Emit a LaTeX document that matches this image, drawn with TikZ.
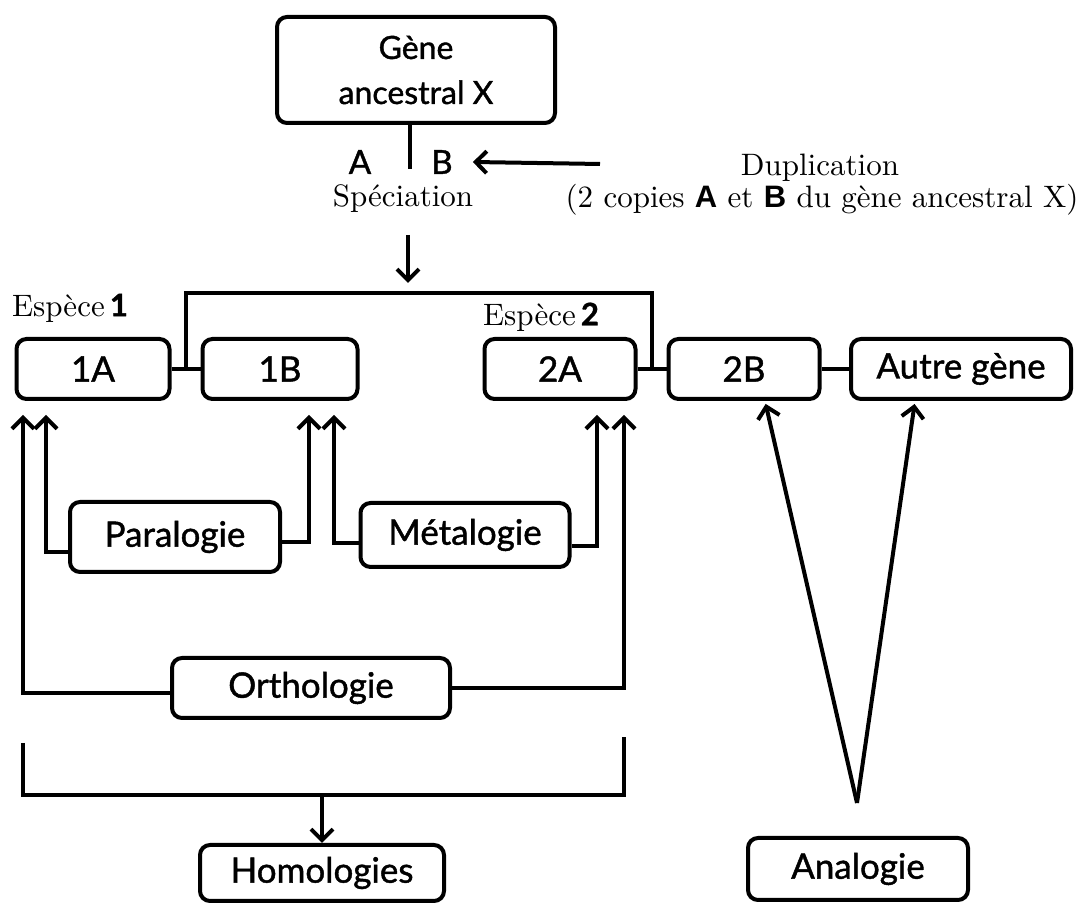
\documentclass[tikz,border=0pt]{standalone}
\usepackage{fontspec}
\setmainfont{lmroman10-regular.otf}
\setsansfont{Liberation Sans}
\newfontfamily\gothic{Lato}[FakeBold=1.2]
\usetikzlibrary{arrows.meta,calc}

\begin{document}
\begin{tikzpicture}[
  x=1pt, y=1pt,
  box/.style={draw, line width=4pt, rounded corners=10pt, align=center, inner sep=0pt, font=\gothic\fontsize{35}{40}\selectfont},
  row/.style={box, minimum height=60pt},
  lbl/.style={inner sep=0pt, font=\fontsize{31}{34}\selectfont},
  letter/.style={inner sep=0pt, font=\gothic\fontsize{33}{36}\selectfont},
  con/.style={line width=4pt},
  arr/.style={-{Straight Barb[length=11pt,width=22pt]}, line width=4pt}
]
\useasboundingbox (0,0) rectangle (1090,904);

% ancestral gene and the two events
\node[box, minimum width=278pt, minimum height=106pt, font=\gothic\fontsize{32}{45}\selectfont] (gene) at (416,834) {Gène\\ancestral X};
\node[letter] (lA) at (360,742) {A};
\node[letter] (lB) at (442,742) {B};
\node[lbl] (spec) at (403,705) {Spéciation};
\node[lbl] (dup) at (820,736) {Duplication};
\node[lbl] (dupnote) at (822,704) {(2 copies {\sffamily\bfseries A} et {\sffamily\bfseries B} du gène ancestral X)};
\coordinate (dupstart) at (600,740);
\coordinate (join) at (408,611);

% genes of the two species
\node[lbl] (sp1) at (70,596) {Espèce\,{\gothic\bfseries 1}};
\node[lbl] (sp2) at (541,587) {Espèce\,{\gothic\bfseries 2}};
\node[row, minimum width=153pt] (a1) at (93,535) {1A};
\node[row, minimum width=155pt] (b1) at (280,535) {1B};
\node[row, minimum width=151pt] (a2) at (560,535) {2A};
\node[row, minimum width=151pt] (b2) at (744,535) {2B};
\node[row, minimum width=220pt] (autre) at (961,535) {Autre gène};

% relations
\node[box, minimum width=210pt, minimum height=70pt] (para) at (175,367) {Paralogie};
\node[box, minimum width=209pt, minimum height=64pt] (meta) at (465,369) {Métalogie};
\node[box, minimum width=278pt, minimum height=60pt] (ortho) at (311,216) {Orthologie};
\node[box, minimum width=244pt, minimum height=56pt] (homol) at (322,31) {Homologies};
\node[box, minimum width=220pt, minimum height=62pt] (analog) at (858,35) {Analogie};
\coordinate (brL) at (23,161);
\coordinate (brR) at (624,167);
\coordinate (hjoin) at ($(homol.north)+(0,48)$);
\coordinate (vtip) at (857,101);

\draw[con] ([xshift=-6pt]gene.south) -- ++(0,-44);
\draw[arr] (dupstart) -- ([xshift=20pt]lB.east);
\draw[arr] ([yshift=58pt]join) -- ([yshift=10pt]join);
\draw[con] ($(a1.east)!.5!(b1.west)$) |- (join) -| ($(a2.east)!.5!(b2.west)$);
\draw[con] (a1) -- (b1);
\draw[con] (a2) -- (b2);
\draw[con] (b2) -- (autre);

\draw[arr, shorten >=14pt] ([yshift=-15pt]para.west) -| ([xshift=-47pt]a1.south);
\draw[arr, shorten >=14pt] ([yshift=-5pt]para.east) -| ([xshift=29pt]b1.south);
\draw[arr, shorten >=14pt] ([yshift=-8pt]meta.west) -| ([xshift=54pt]b1.south);
\draw[arr, shorten >=14pt] ([yshift=-11pt]meta.east) -| ([xshift=37pt]a2.south);
\draw[arr, shorten >=14pt] ([yshift=-5pt]ortho.west) -| ([xshift=-70pt]a1.south);
\draw[arr, shorten >=14pt] (ortho.east) -| ([xshift=64pt]a2.south);

\draw[con] (brL) |- (hjoin) -| (brR);
\draw[arr] (hjoin) -- (homol.north);
\draw[arr, shorten >=3pt] (vtip) -- ([xshift=21pt]b2.south);
\draw[arr, shorten >=3pt] (vtip) -- ([xshift=-46pt]autre.south);
\end{tikzpicture}
\end{document}
